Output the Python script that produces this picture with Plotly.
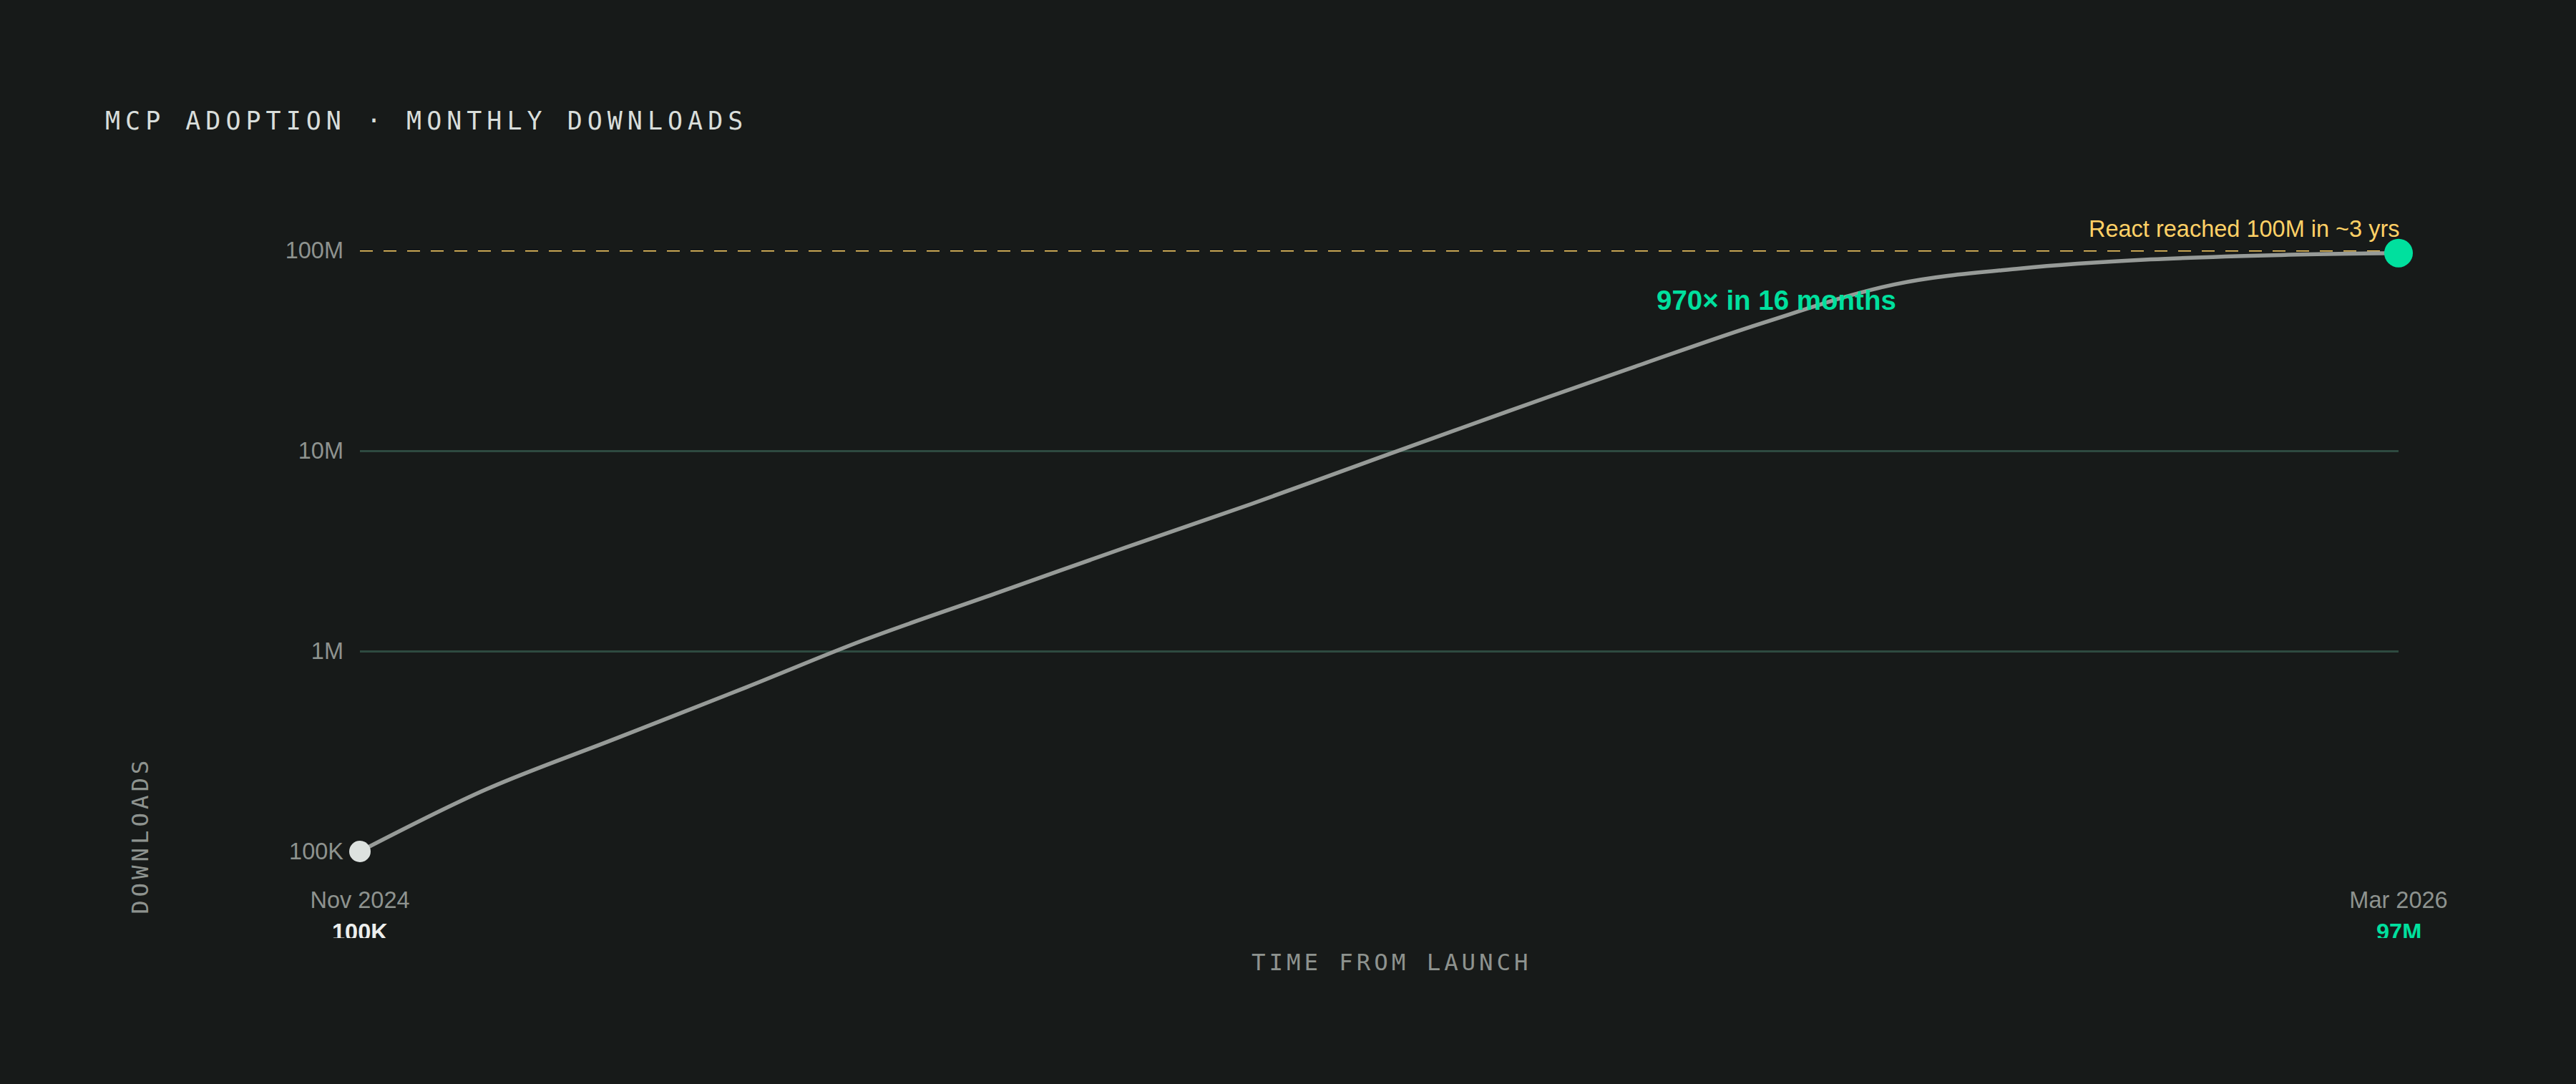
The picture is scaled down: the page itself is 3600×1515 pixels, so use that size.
import plotly.graph_objects as go

# ===== DATA =====
months = [
    "2024-11-01", "2024-12-01", "2025-01-01", "2025-02-01", "2025-03-01",
    "2025-04-01", "2025-05-01", "2025-06-01", "2025-07-01", "2025-08-01",
    "2025-09-01", "2025-10-01", "2025-11-01", "2025-12-01", "2026-01-01",
    "2026-02-01", "2026-03-01",
]
downloads = [
    100_000, 204_000, 367_000, 661_000, 1_138_000,
    1_932_000, 3_228_000, 5_420_000, 9_162_000, 15_700_000,
    26_610_000, 43_650_000, 67_600_000, 81_280_000, 90_160_000,
    94_840_000, 97_000_000,
]
react_benchmark = 100_000_000

y_tickvals = [100_000, 1_000_000, 10_000_000, 100_000_000]
y_ticktext = ["100K", "1M", "10M", "100M"]
x_ticktext = ["Nov 2024", "Mar 2026"]
end_values = ["100K", "97M"]

# ===== STYLE =====
BG = "#171a19"
GRID = "#2e4a40"
MUTED = "#8e938f"
LIGHT = "#d9dedb"
LINE = "#979b98"
GREEN = "#00e09e"
YELLOW = "#ffd166"
SANS = "Liberation Sans, Arial, sans-serif"
MONO = "DejaVu Sans Mono, monospace"

fig = go.Figure()

# React benchmark at 100M (dashed)
fig.add_trace(go.Scatter(
    x=[months[0], months[-1]], y=[react_benchmark, react_benchmark],
    mode="lines", line=dict(color=YELLOW, width=3, dash="18px,15px"),
    hoverinfo="skip",
))

# growth curve
fig.add_trace(go.Scatter(
    x=months, y=downloads, mode="lines",
    line=dict(color=LINE, width=5.5, shape="spline", smoothing=1),
    hoverinfo="skip",
))

# start / end dots
fig.add_trace(go.Scatter(
    x=[months[0]], y=[downloads[0]], mode="markers",
    marker=dict(size=30, color="#dde2df"), cliponaxis=False, hoverinfo="skip",
))
fig.add_trace(go.Scatter(
    x=[months[-1]], y=[downloads[-1]], mode="markers",
    marker=dict(size=40, color=GREEN), cliponaxis=False, hoverinfo="skip",
))

fig.update_layout(
    width=3600, height=1515,
    paper_bgcolor=BG, plot_bgcolor=BG,
    showlegend=False,
    margin=dict(l=503, r=248, t=350, b=325),
    font=dict(family=SANS, size=32.5, color=MUTED),
    xaxis=dict(
        type="date", range=[months[0], months[-1]],
        tickmode="array", tickvals=[months[0], months[-1]], ticktext=x_ticktext,
        showgrid=False, zeroline=False, showline=False, ticks="",
        tickfont=dict(family=SANS, size=32.5, color=MUTED),
        ticklabelstandoff=45,
    ),
    yaxis=dict(
        type="log", range=[5, 8],
        tickmode="array", tickvals=y_tickvals, ticktext=y_ticktext,
        showgrid=True, gridcolor=GRID, gridwidth=2.5,
        zeroline=False, showline=False, ticks="",
        tickfont=dict(family=SANS, size=32.5, color=MUTED),
        ticklabelstandoff=22,
    ),
)

# ===== TEXT =====
fig.add_annotation(
    text='<span style="letter-spacing:7px">MCP ADOPTION · MONTHLY DOWNLOADS</span>',
    xref="paper", yref="paper", x=-0.1253, y=1.216,
    xanchor="left", yanchor="middle", showarrow=False, borderpad=0,
    font=dict(family=MONO, size=35, color=LIGHT),
)
fig.add_annotation(
    text='<span style="letter-spacing:4.9px">DOWNLOADS</span>',
    xref="paper", yref="paper", x=-0.1078, y=0.0262, textangle=-90,
    xanchor="center", yanchor="middle", showarrow=False, borderpad=0,
    font=dict(family=MONO, size=32.5, color=MUTED),
)
fig.add_annotation(
    text='<span style="letter-spacing:4.9px">TIME FROM LAUNCH</span>',
    xref="paper", yref="paper", x=0.5061, y=-0.1845,
    xanchor="center", yanchor="middle", showarrow=False, borderpad=0,
    font=dict(family=MONO, size=32.5, color=MUTED),
)
fig.add_annotation(
    text="<b>970× in 16 months</b>",
    xref="paper", yref="paper", x=0.6948, y=0.9167,
    xanchor="center", yanchor="middle", showarrow=False, borderpad=0,
    font=dict(family=SANS, size=38.5, color=GREEN),
)
fig.add_annotation(
    text="React reached 100M in ~3 yrs",
    xref="paper", yref="paper", x=1.0007, y=1.0361,
    xanchor="right", yanchor="middle", showarrow=False, borderpad=0,
    font=dict(family=SANS, size=32.5, color=YELLOW),
)

# value labels under the end ticks (cut off at the bottom, as in the original)
for x, label, color in zip([months[0], months[-1]], end_values, ["#eceeed", GREEN]):
    fig.add_annotation(
        text=f"<b>{label}</b>",
        xref="x", yref="paper", x=x, y=-0.1114,
        xanchor="center", yanchor="top", valign="top", height=26,
        showarrow=False, borderpad=0,
        font=dict(family=SANS, size=32.5, color=color),
    )

# drop the default page margin so the figure sits flush in the window
fig.write_html(
    "out.html",
    config={"displayModeBar": False},
    post_script="document.body.style.margin='0';document.body.style.background='#171a19';",
)
